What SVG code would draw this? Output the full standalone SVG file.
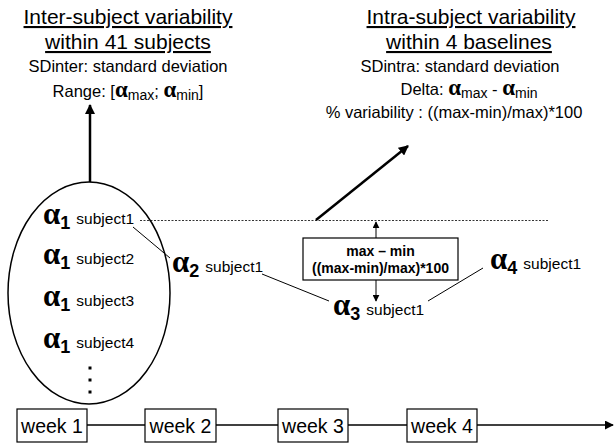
<svg xmlns="http://www.w3.org/2000/svg" width="614" height="443" viewBox="0 0 614 443">
<style>
text{font-family:"Liberation Sans",Arial,sans-serif;fill:#000}
.title{font-size:21px;text-decoration:underline;text-anchor:middle}
.sub{font-size:16.5px;text-anchor:middle}
.al{font-family:"Liberation Serif","Times New Roman",serif;font-weight:bold;font-size:31px}
.ix{font-weight:bold;font-size:18px}
.subj{font-size:15.5px}
.ga{font-family:"Liberation Serif","Times New Roman",serif;font-weight:bold;font-size:23px}
.gs{font-size:14px}
.box{fill:#fff;stroke:#000;stroke-width:1.2}
.wk{font-size:19.5px;text-anchor:middle}
.bt{font-size:14px;font-weight:bold;text-anchor:middle}
.thin{stroke:#000;stroke-width:1;fill:none}
.thick{stroke:#000;stroke-width:2.5;fill:none}
</style>
<defs>
<marker id="ah" viewBox="0 0 10 10" refX="9" refY="5" markerWidth="4" markerHeight="4" orient="auto" markerUnits="strokeWidth">
<path d="M0,0 L10,5 L0,10 z" fill="#000"/>
</marker>
<marker id="ahs" viewBox="0 0 10 10" refX="9" refY="5" markerWidth="7" markerHeight="7" orient="auto" markerUnits="strokeWidth">
<path d="M0,0 L10,5 L0,10 z" fill="#000"/>
</marker>
<marker id="ahm" viewBox="0 0 10 10" refX="9" refY="5" markerWidth="6" markerHeight="6" orient="auto" markerUnits="strokeWidth">
<path d="M0,0 L10,5 L0,10 z" fill="#000"/>
</marker>
</defs>

<g id="inter-title">
<text class="title" x="128" y="24">Inter-subject variability</text>
<text class="title" x="128" y="49">within 41 subjects</text>
<text class="sub" x="128" y="72">SDinter: standard deviation</text>
<text class="sub" x="128" y="97">Range: [<tspan class="ga">α</tspan><tspan class="gs" dy="3">max</tspan><tspan dy="-3">; </tspan><tspan class="ga">α</tspan><tspan class="gs" dy="3">min</tspan><tspan dy="-3">]</tspan></text>
</g>

<g id="intra-title">
<text class="title" x="471" y="24">Intra-subject variability</text>
<text class="title" x="469" y="49">within 4 baselines</text>
<text class="sub" x="460" y="72">SDintra: standard deviation</text>
<text class="sub" x="469" y="95">Delta: <tspan class="ga">α</tspan><tspan class="gs" dy="3">max</tspan><tspan dy="-3"> - </tspan><tspan class="ga">α</tspan><tspan class="gs" dy="3">min</tspan></text>
<text class="sub" x="454" y="118">% variability : ((max-min)/max)*100</text>
</g>

<g id="connectors">
<line class="thick" x1="90" y1="182" x2="90" y2="105" marker-end="url(#ah)"/>
<line class="thick" x1="316" y1="220" x2="408" y2="146" marker-end="url(#ah)"/>
<line x1="140" y1="220.5" x2="548" y2="220.5" stroke="#000" stroke-width="0.8" stroke-dasharray="2,1.5"/>
<line class="thin" x1="133" y1="227" x2="170" y2="258"/>
<line class="thin" x1="262" y1="274" x2="329" y2="301"/>
<line class="thin" x1="428" y1="301" x2="483" y2="268"/>
<line class="thin" x1="376" y1="238" x2="376" y2="222" marker-end="url(#ahs)"/>
<line class="thin" x1="376" y1="280" x2="376" y2="301" marker-end="url(#ahs)"/>
<line x1="87" y1="425" x2="145" y2="425" stroke="#000" stroke-width="1.5"/>
<line x1="216" y1="425" x2="278" y2="425" stroke="#000" stroke-width="1.5"/>
<line x1="348" y1="425" x2="407" y2="425" stroke="#000" stroke-width="1.5"/>
<line x1="477" y1="425" x2="613" y2="425" stroke="#000" stroke-width="1.5" marker-end="url(#ahm)"/>
</g>

<g id="subjects">
<ellipse cx="89" cy="293" rx="81" ry="111" fill="none" stroke="#000" stroke-width="1.5"/>
<text x="43" y="224"><tspan class="al">α</tspan><tspan class="ix" dy="5">1</tspan><tspan class="subj" dx="6" dy="-5">subject1</tspan></text>
<text x="43" y="264"><tspan class="al">α</tspan><tspan class="ix" dy="5">1</tspan><tspan class="subj" dx="6" dy="-5">subject2</tspan></text>
<text x="43" y="306"><tspan class="al">α</tspan><tspan class="ix" dy="5">1</tspan><tspan class="subj" dx="6" dy="-5">subject3</tspan></text>
<text x="43" y="348"><tspan class="al">α</tspan><tspan class="ix" dy="5">1</tspan><tspan class="subj" dx="6" dy="-5">subject4</tspan></text>
<rect x="88.5" y="366.5" width="3" height="3"/>
<rect x="88.5" y="378.5" width="3" height="3"/>
<rect x="88.5" y="390.5" width="3" height="3"/>
</g>

<g id="alpha2">
<text x="172" y="272"><tspan class="al">α</tspan><tspan class="ix" dy="5">2</tspan><tspan class="subj" dx="6" dy="-5">subject1</tspan></text>
</g>
<g id="alpha3">
<text x="333" y="315"><tspan class="al">α</tspan><tspan class="ix" dy="5">3</tspan><tspan class="subj" dx="6" dy="-5">subject1</tspan></text>
</g>
<g id="alpha4">
<text x="490" y="269"><tspan class="al">α</tspan><tspan class="ix" dy="5">4</tspan><tspan class="subj" dx="6" dy="-5">subject1</tspan></text>
</g>

<g id="delta-box">
<rect class="box" x="303" y="238" width="155" height="42"/>
<text class="bt" x="380.5" y="256">max – min</text>
<text class="bt" x="380.5" y="273">((max-min)/max)*100</text>
</g>

<g id="week1"><rect class="box" x="17" y="409" width="70" height="33"/><text class="wk" x="52" y="432.5">week 1</text></g>
<g id="week2"><rect class="box" x="145" y="409" width="71" height="33"/><text class="wk" x="180.5" y="432.5">week 2</text></g>
<g id="week3"><rect class="box" x="278" y="409" width="70" height="33"/><text class="wk" x="313" y="432.5">week 3</text></g>
<g id="week4"><rect class="box" x="407" y="409" width="70" height="33"/><text class="wk" x="442" y="432.5">week 4</text></g>
</svg>
